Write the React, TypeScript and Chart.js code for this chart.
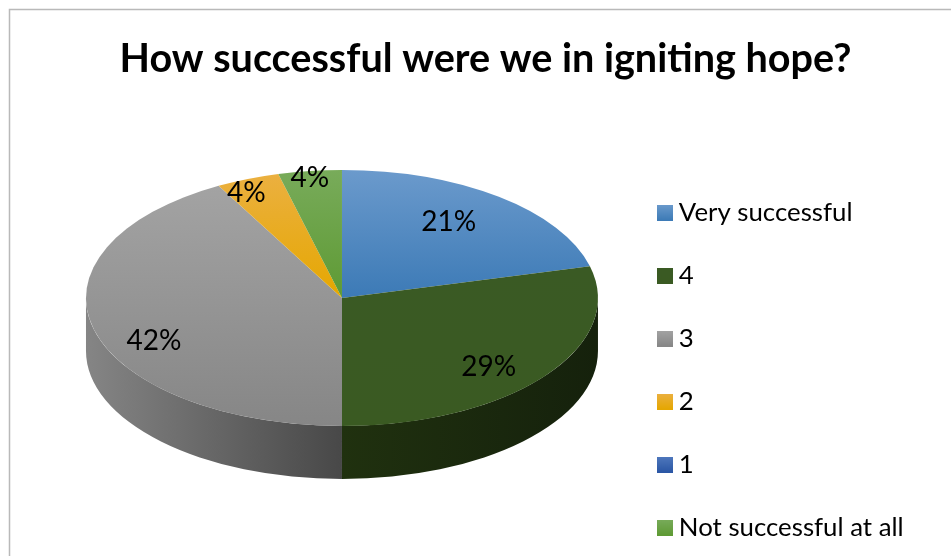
import React, { useEffect, useRef } from "react";
import { Chart, registerables } from "chart.js";

Chart.register(...registerables);

const chartTitle = "How successful were we in igniting hope?";
const categories = ["Very successful", "4", "3", "2", "1", "Not successful at all"];
const percentages = [21, 29, 42, 4, 0, 4];

const topColors = ["#6b9acc", "#3a5a24", "#a3a3a3", "#ebb040", "#4f78bd", "#78ab5a"];
const bottomColors = ["#3c7ab6", "#3a5a22", "#868686", "#e5a700", "#2a56a4", "#5e9a34"];
const sideLeftColors = ["#2d5a85", "#20310f", "#858585", "#a87c00", "#203f78", "#44701f"];
const sideRightColors = ["#2d5a85", "#15210c", "#484848", "#a87c00", "#203f78", "#44701f"];
const labelNudges = [[-11, 0], [-5, 10], [-2, 19], [-25, -16], [0, 0], [-8, -25]];

const SQUASH = 0.5;
const DEPTH = 53;
const FONT = "Lato, 'Open Sans', sans-serif";

function sliceExtent(i: number, cy: number, r: number) {
  const total = percentages.reduce((a, b) => a + b, 0);
  const before = percentages.slice(0, i).reduce((a, b) => a + b, 0);
  const a0 = -Math.PI / 2 + (before / total) * Math.PI * 2;
  const a1 = a0 + (percentages[i] / total) * Math.PI * 2;
  let min = 0;
  let max = 0;
  const steps = 40;
  for (let s = 0; s <= steps; s++) {
    const v = Math.sin(a0 + ((a1 - a0) * s) / steps);
    min = Math.min(min, v);
    max = Math.max(max, v);
  }
  return [cy + min * r, cy + max * r];
}

function swatch(i: number) {
  const c = document.createElement("canvas");
  c.width = 16;
  c.height = 16;
  const x = c.getContext("2d")!;
  const g = x.createLinearGradient(0, 0, 0, 16);
  g.addColorStop(0, topColors[i]);
  g.addColorStop(1, bottomColors[i]);
  x.fillStyle = g;
  x.fillRect(0, 0, 16, 16);
  return c;
}

const framePlugin = {
  id: "frame",
  beforeDraw(chart: any) {
    const { ctx, width, height } = chart;
    ctx.save();
    ctx.fillStyle = "#ffffff";
    ctx.fillRect(0, 0, width, height);
    ctx.strokeStyle = "#b9b9b9";
    ctx.lineWidth = 1.5;
    ctx.beginPath();
    ctx.moveTo(9.5, height);
    ctx.lineTo(9.5, 9.5);
    ctx.lineTo(width, 9.5);
    ctx.stroke();
    ctx.restore();
  },
};

const layoutShiftPlugin = {
  id: "layoutShift",
  afterLayout(chart: any) {
    chart.legend.top += 93;
    chart.legend.bottom += 93;
  },
};

const pie3dPlugin = {
  id: "pie3d",
  beforeDatasetsDraw(chart: any) {
    const { ctx } = chart;
    const arcs = chart.getDatasetMeta(0).data;
    ctx.save();
    arcs.forEach((arc: any, i: number) => {
      const { x, y, startAngle, endAngle, outerRadius } = arc.getProps(
        ["x", "y", "startAngle", "endAngle", "outerRadius"],
        true
      );
      const a0 = Math.max(startAngle, 0);
      const a1 = Math.min(endAngle, Math.PI);
      if (a1 <= a0) return;
      const ry = outerRadius * SQUASH;
      const left = x + Math.cos(a1) * outerRadius;
      const right = x + Math.cos(a0) * outerRadius;
      const g = ctx.createLinearGradient(left, 0, right, 0);
      g.addColorStop(0, sideLeftColors[i]);
      g.addColorStop(1, sideRightColors[i]);
      ctx.fillStyle = g;
      ctx.beginPath();
      ctx.ellipse(x, y, outerRadius, ry, 0, a0, a1);
      ctx.ellipse(x, y + DEPTH, outerRadius, ry, 0, a1, a0, true);
      ctx.closePath();
      ctx.fill();
    });
    const first = arcs[0];
    ctx.translate(first.x, first.y);
    ctx.scale(1, SQUASH);
    ctx.translate(-first.x, -first.y);
  },
  afterDatasetsDraw(chart: any) {
    const { ctx } = chart;
    ctx.restore();
    const arcs = chart.getDatasetMeta(0).data;
    ctx.save();
    ctx.fillStyle = "#000000";
    ctx.font = `28px ${FONT}`;
    ctx.textAlign = "center";
    ctx.textBaseline = "middle";
    arcs.forEach((arc: any, i: number) => {
      if (!percentages[i]) return;
      const { x, y, startAngle, endAngle, outerRadius } = arc.getProps(
        ["x", "y", "startAngle", "endAngle", "outerRadius"],
        true
      );
      const mid = (startAngle + endAngle) / 2;
      const r = outerRadius * 0.75;
      ctx.fillText(
        `${percentages[i]}%`,
        x + Math.cos(mid) * r + labelNudges[i][0],
        y + Math.sin(mid) * r * SQUASH + labelNudges[i][1]
      );
    });
    ctx.restore();
  },
};

export default function App() {
  const ref = useRef<HTMLCanvasElement>(null);
  useEffect(() => {
    const swatches = categories.map((_, i) => swatch(i));
    const chart = new Chart(ref.current!, {
      type: "pie",
      data: {
        labels: categories,
        datasets: [
          {
            data: percentages,
            borderWidth: 0,
            backgroundColor: (c: any) => {
              const { chart: ch, dataIndex } = c;
              const area = ch.chartArea;
              if (!area || dataIndex === undefined) return topColors[0];
              const cy = (area.top + area.bottom) / 2;
              const r = Math.min(area.width, area.height) / 2;
              const [y0, y1] = sliceExtent(dataIndex, cy, r);
              const g = ch.ctx.createLinearGradient(0, y0, 0, y1);
              g.addColorStop(0, topColors[dataIndex]);
              g.addColorStop(1, bottomColors[dataIndex]);
              return g;
            },
          },
        ],
      },
      options: {
        responsive: false,
        animation: false,
        layout: { padding: { left: 57.2, right: 37.3, top: 0, bottom: 2 } },
        plugins: {
          tooltip: { enabled: false },
          title: {
            display: true,
            text: chartTitle,
            color: "#000000",
            font: { family: FONT, size: 39.6, weight: "bold" },
            padding: { top: 35, bottom: -40.5 },
          },
          legend: {
            position: "right",
            labels: {
              color: "#000000",
              font: { family: FONT, size: 25.8 },
              usePointStyle: true,
              pointStyleWidth: 2,
              padding: 37.2,
              generateLabels: (ch: any) =>
                (Chart as any).overrides.doughnut.plugins.legend.labels
                  .generateLabels(ch)
                  .map((item: any, i: number) => ({ ...item, pointStyle: swatches[i] })),
            },
          },
        },
      },
      plugins: [framePlugin, layoutShiftPlugin, pie3dPlugin],
    } as any);
    return () => chart.destroy();
  }, []);
  return (
    <canvas
      ref={ref}
      width={951}
      height={556}
      style={{ position: "absolute", left: 0, top: 0, display: "block" }}
    />
  );
}
